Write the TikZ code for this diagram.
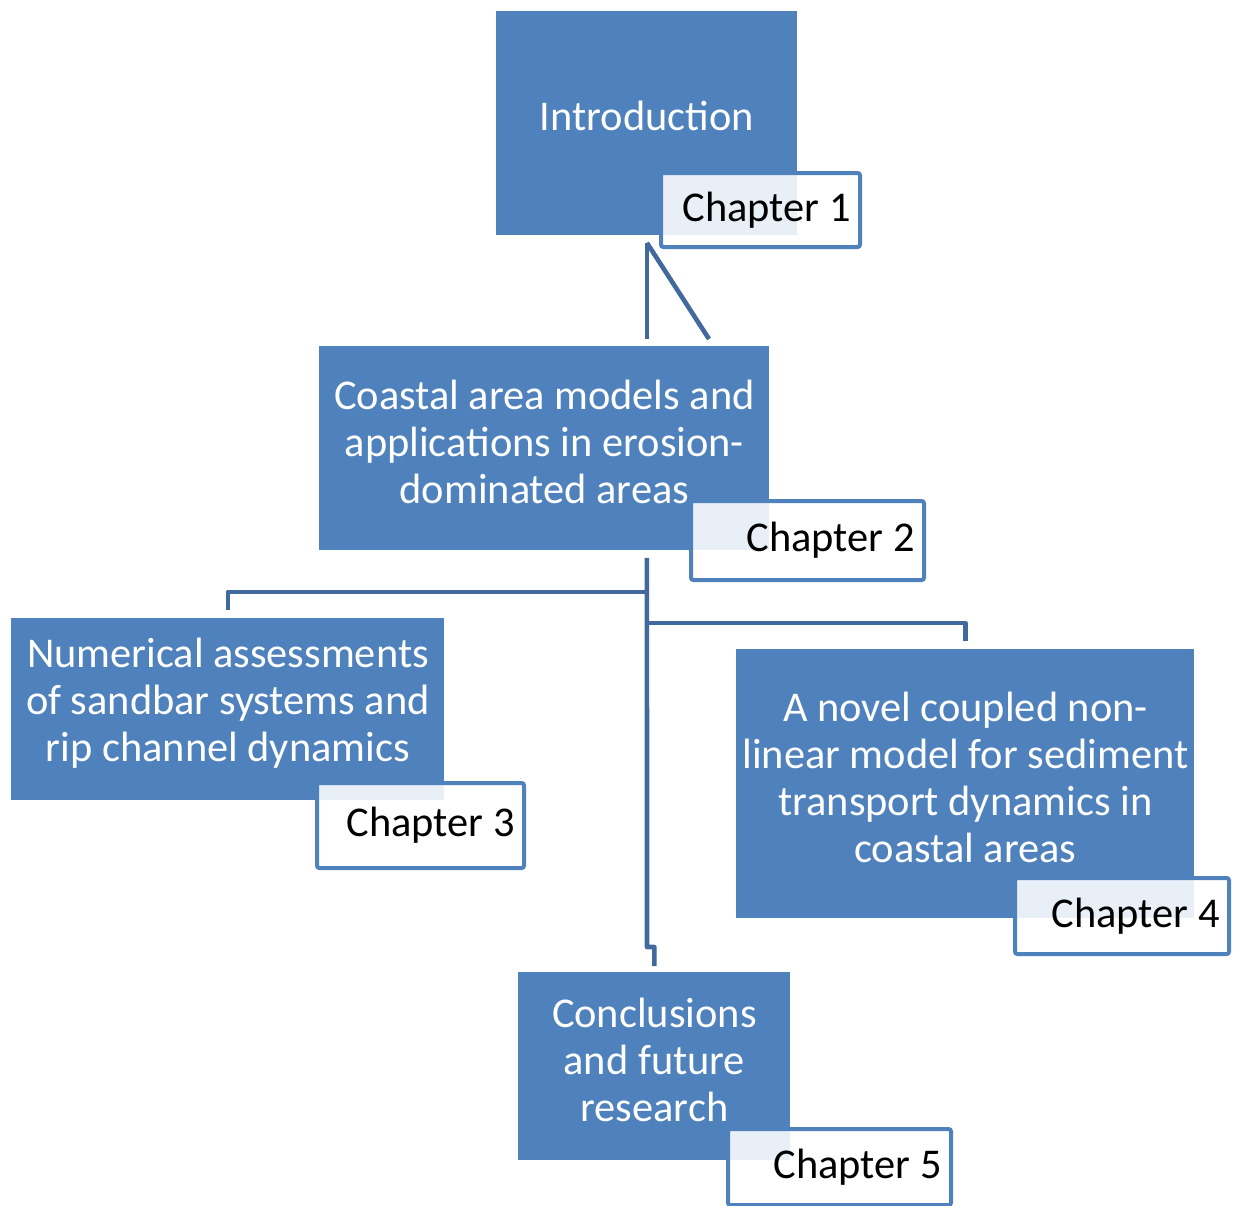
\documentclass[tikz,border=0pt]{standalone}
\usepackage{fontspec}
\setmainfont{Carlito}
\definecolor{boxblue}{HTML}{4F81BD}
\definecolor{linkblue}{HTML}{41699D}
\begin{document}
\begin{tikzpicture}[x=0.5pt,y=-0.5pt,
  bluebox/.style={fill=boxblue, draw=none, inner sep=0pt, anchor=north west},
  boxtext/.style={text=white, align=center, inner sep=0pt,
    font=\fontsize{21.2pt}{23.5pt}\selectfont},
  chapbox/.style={draw=boxblue, line width=2pt, fill=white, fill opacity=0.88,
    rounded corners=1.2pt, inner sep=0pt, anchor=north west},
  chaptext/.style={text=black, inner sep=0pt, anchor=east,
    font=\fontsize{21.2pt}{23.5pt}\selectfont},
  conn/.style={draw=linkblue, line width=2.3pt, line join=round}]
\useasboundingbox (0,0) rectangle (1235,1205);

% main boxes
\node[bluebox, minimum width=150.5pt, minimum height=112pt] (intro) at (496,11) {};
\node[bluebox, minimum width=225pt, minimum height=102pt] (coastal) at (319,346) {};
\node[bluebox, minimum width=216.5pt, minimum height=91pt] (numer) at (11,618) {};
\node[bluebox, minimum width=229pt, minimum height=134.5pt] (novel) at (736,649) {};
\node[bluebox, minimum width=136pt, minimum height=94pt] (concl) at (518,972) {};

% box captions
\node[boxtext] (intro-t) at ([yshift=3.5pt]intro.center) {Introduction};
\node[boxtext] (coastal-t) at ([yshift=3pt]coastal.center)
  {Coastal area models and\\applications in erosion-\\dominated areas};
\node[boxtext] (numer-t) at ([yshift=3pt]numer.center)
  {Numerical assessments\\of sandbar systems and\\rip channel dynamics};
\node[boxtext] (novel-t) at ([yshift=3pt]novel.center)
  {A novel coupled non-\\linear model for sediment\\transport dynamics in\\coastal areas};
\node[boxtext] (concl-t) at ([yshift=3pt]concl.center)
  {Conclusions\\and future\\research};

% chapter tags
\node[chapbox, minimum width=99.5pt, minimum height=37pt] (ch1) at (659,171) {};
\node[chapbox, minimum width=116.5pt, minimum height=39.5pt] (ch2) at (689,499) {};
\node[chapbox, minimum width=103.5pt, minimum height=42.5pt] (ch3) at (315,781) {};
\node[chapbox, minimum width=107pt, minimum height=38pt] (ch4) at (1013,876) {};
\node[chapbox, minimum width=111.5pt, minimum height=38pt] (ch5) at (726,1127) {};

\node[chaptext] (ch1-t) at ([xshift=-5.5pt]ch1.east) {Chapter 1};
\node[chaptext] (ch2-t) at ([xshift=-5.5pt]ch2.east) {Chapter 2};
\node[chaptext] (ch3-t) at ([xshift=-5.5pt]ch3.east) {Chapter 3};
\node[chaptext] (ch4-t) at ([xshift=-5.5pt]ch4.east) {Chapter 4};
\node[chaptext] (ch5-t) at ([xshift=-5.5pt]ch5.east) {Chapter 5};

% connectors
\coordinate (top) at ([yshift=-3.5pt]intro.south);
\coordinate (diagend) at (709,339);
\coordinate (stem) at (intro.south |- coastal.south);
\coordinate (jog) at (647,947);
\coordinate (leftfork) at (647,592);
\coordinate (rightfork) at (648,623);

\draw[conn] (top) -- ([yshift=3.5pt]top |- coastal.north);
\draw[conn] (top) -- (diagend);
\draw[conn] ([yshift=-3.5pt]stem) -- (jog) -- (jog -| concl.north)
  -- ([yshift=3pt]concl.north);
\draw[conn] (leftfork) -- (leftfork -| numer.north) -- ([yshift=4pt]numer.north);
\draw[conn] (rightfork) -- (rightfork -| novel.north) -- ([yshift=4pt]novel.north);
\end{tikzpicture}
\end{document}
